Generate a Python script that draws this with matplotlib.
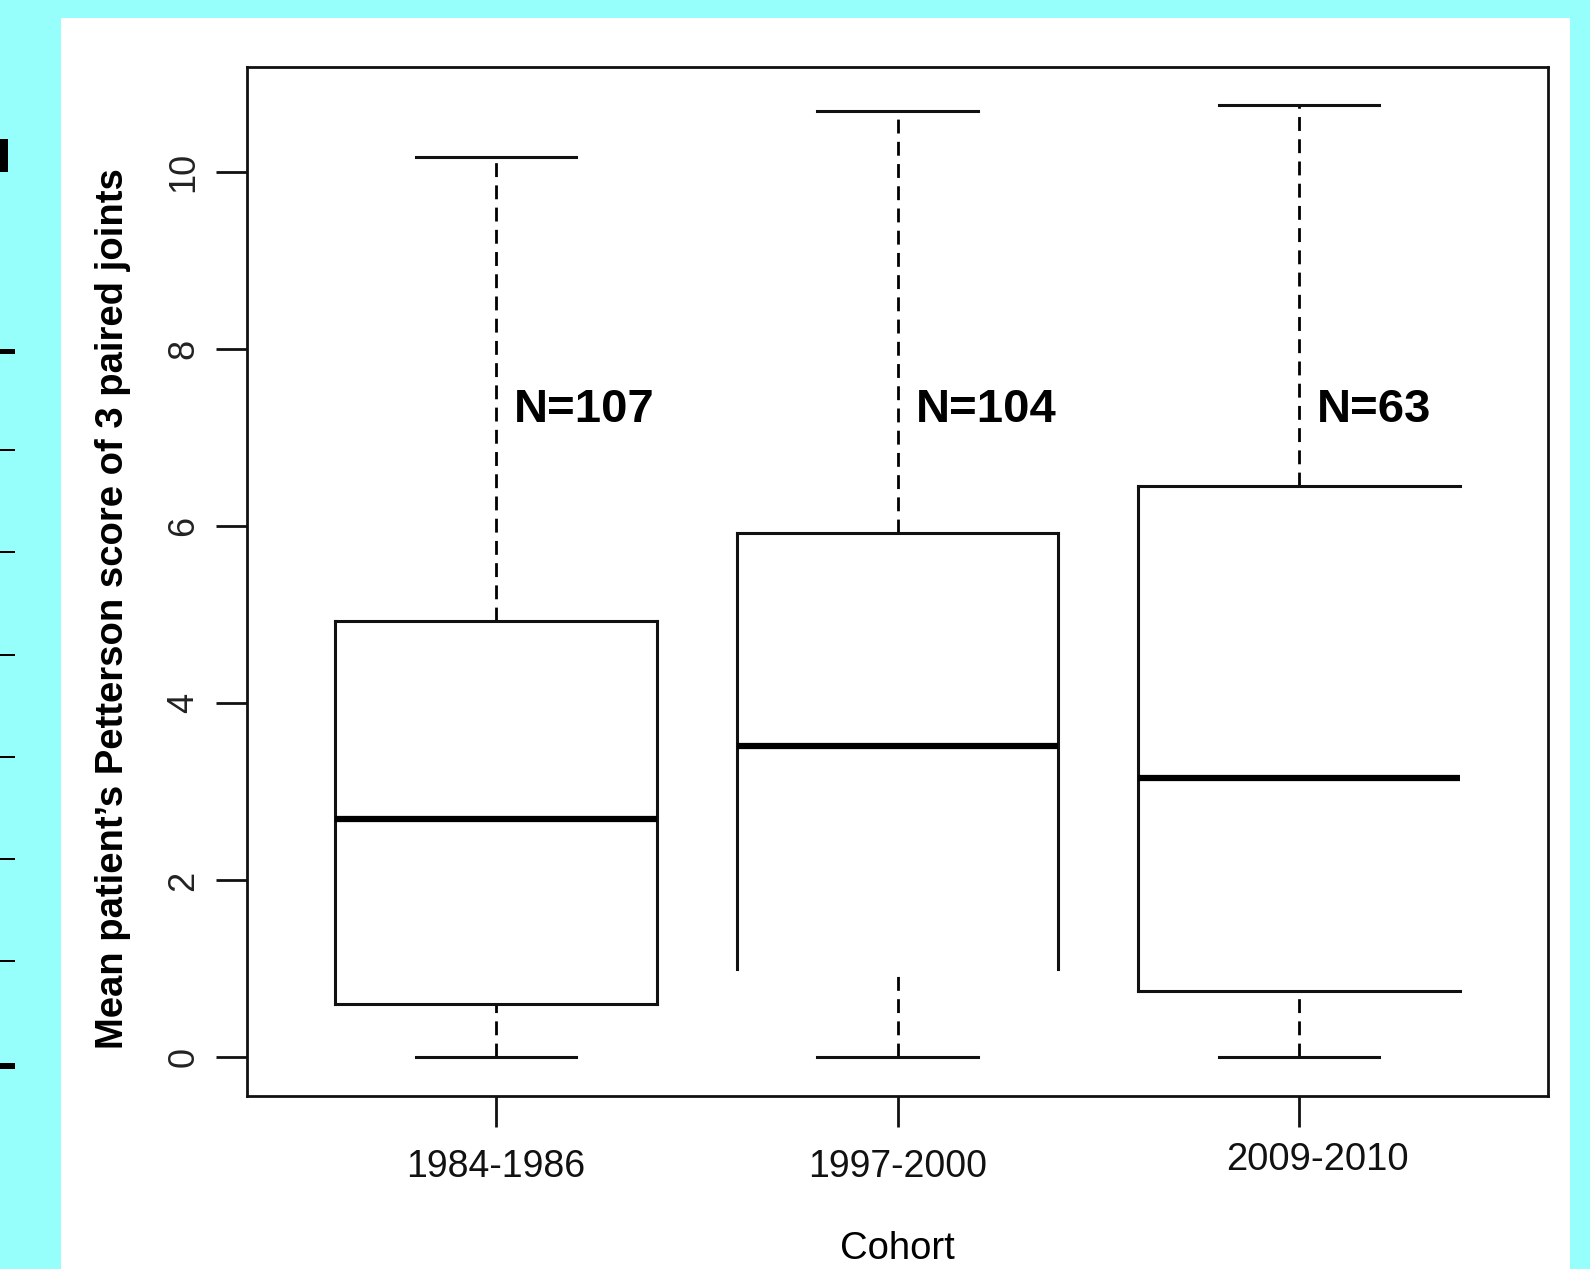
import matplotlib.pyplot as plt
from matplotlib.patches import Rectangle
from matplotlib.transforms import ScaledTranslation

# cohort summary values
cohorts = ['1984-1986', '1997-2000', '2009-2010']
n_labels = ['N=107', 'N=104', 'N=63']
whisker_low = [0.0, 0.0, 0.0]
q1 = [0.6, 1.0, 0.75]
median = [2.69, 3.52, 3.16]
q3 = [4.93, 5.92, 6.46]
whisker_high = [10.17, 10.69, 10.76]
yticks = [0, 2, 4, 6, 8, 10]

plt.rcParams['font.family'] = ['Liberation Sans', 'DejaVu Sans']

fig = plt.figure(figsize=(15.9, 12.69), dpi=100)
fig.patch.set_facecolor('#97fffb')
# white slide panel
fig.add_artist(Rectangle((61 / 1590, 0), (1570 - 61) / 1590, 1 - 18 / 1269,
                         transform=fig.transFigure, facecolor='white', edgecolor='none', zorder=0))

# leftover marks on the left edge of the slide
marks = [(140, 172, 8), (350, 354, 15), (450, 451, 15), (552, 553, 15), (655, 656, 15),
         (757, 758, 15), (859, 860, 15), (961, 962, 15), (1064, 1069, 15)]
for y0, y1, w in marks:
    fig.add_artist(Rectangle((0, 1 - y1 / 1269), w / 1590, (y1 - y0 + 1) / 1269,
                             transform=fig.transFigure, facecolor='black', edgecolor='none', zorder=1))

ax = fig.add_axes([247 / 1590, 1 - 1096 / 1269, (1548 - 247) / 1590, (1096 - 67) / 1269])
ax.set_facecolor('white')
for s in ax.spines.values():
    s.set_linewidth(2)
    s.set_color('#111111')

pos = [1, 2, 3]
half = 0.4
cap = 0.2
lw = 2.2
for i, x in enumerate(pos):
    # whiskers
    ax.plot([x, x], [q3[i], whisker_high[i]], color='black', lw=2, ls=(0, (5, 3)))
    ax.plot([x, x], [whisker_low[i], q1[i]], color='black', lw=2, ls=(0, (5, 3)))
    ax.plot([x - cap, x + cap], [whisker_high[i]] * 2, color='#111111', lw=lw)
    ax.plot([x - cap, x + cap], [whisker_low[i]] * 2, color='#111111', lw=lw)
    # box edges (the original slide lost a couple of edges)
    ax.plot([x - half, x + half], [q3[i]] * 2, color='#111111', lw=lw)
    if i != 1:
        ax.plot([x - half, x + half], [q1[i]] * 2, color='#111111', lw=lw)
    ax.plot([x - half, x - half], [q1[i], q3[i]], color='#111111', lw=lw)
    if i != 2:
        ax.plot([x + half, x + half], [q1[i], q3[i]], color='#111111', lw=lw)
    ax.plot([x - half, x + half], [median[i]] * 2, color='black', lw=4.5, solid_capstyle='butt')
    ax.text(x + 0.045, 7.32, n_labels[i], fontsize=34, fontweight='bold', ha='left', va='center')

ax.set_xlim(0.38, 3.62)
ax.set_ylim(-0.435, 11.19)
ax.set_yticks(yticks)
ax.set_yticklabels([str(v) for v in yticks], rotation=90, va='center', fontsize=26, color='#222222')
ax.set_xticks(pos)
ax.set_xticklabels(cohorts, fontsize=27, color='#111111')
ax.tick_params(length=22, width=2, color='#111111')
ax.tick_params(axis='y', pad=11)
ax.tick_params(axis='x', pad=16)
# the last cohort label sits slightly off in the original
lab = ax.get_xticklabels()[2]
lab.set_transform(lab.get_transform() + ScaledTranslation(0.18, 0.07, fig.dpi_scale_trans))
lab.set_fontsize(27.5)

ax.set_ylabel("Mean patient\u2019s Petterson score of 3 paired joints", fontsize=27.5,
              fontweight='bold')
ax.yaxis.set_label_coords(-0.089, 0.474)
ax.set_xlabel('Cohort', fontsize=27.5, labelpad=33)

fig.savefig('out.png', dpi=100, facecolor=fig.get_facecolor())
